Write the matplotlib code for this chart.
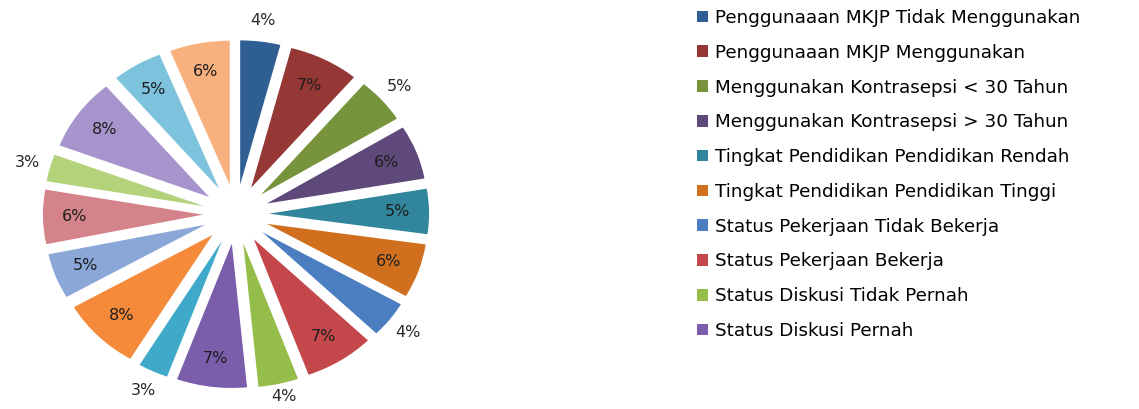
import numpy as np
import matplotlib
matplotlib.use('Agg')
import matplotlib.pyplot as plt

# slice values (percent), clockwise from 12 o'clock
values = [4, 7, 5, 6, 5, 6, 4, 7, 4, 7, 3, 8, 5, 6, 3, 8, 5, 6]

# only the first ten categories are visible in the legend
legend_labels = [
    'Penggunaaan MKJP Tidak Menggunakan',
    'Penggunaaan MKJP Menggunakan',
    'Menggunakan Kontrasepsi < 30 Tahun',
    'Menggunakan Kontrasepsi > 30 Tahun',
    'Tingkat Pendidikan Pendidikan Rendah',
    'Tingkat Pendidikan Pendidikan Tinggi',
    'Status Pekerjaan Tidak Bekerja',
    'Status Pekerjaan Bekerja',
    'Status Diskusi Tidak Pernah',
    'Status Diskusi Pernah',
]

colors = ['#2F5E93', '#953735', '#77933C', '#5F497A', '#31859C', '#D0701E',
          '#4A7EC0', '#C4474C', '#94BD4A', '#7B5DAB', '#3FA9CA', '#F48A3A',
          '#8AA7D8', '#D5838A', '#B3D37A', '#A794CC', '#7EC3DE', '#F8B07E']

# slices whose percentage sits outside the pie
outside = [0, 2, 6, 8, 10, 14]

fig = plt.figure(figsize=(11.39, 4.09), dpi=100)
ax = fig.add_axes([0, 0, 472 / 1139, 1])

wedges, texts, autotexts = ax.pie(
    values, colors=colors, startangle=90, counterclock=False,
    explode=[0.2] * len(values), radius=0.97,
    autopct='%.0f%%', pctdistance=0.8,
    wedgeprops=dict(linewidth=0),
    textprops=dict(fontsize=11.5, color='#1e1e1e'))

# move labels of the thin slices outside
for i, (w, t) in enumerate(zip(wedges, autotexts)):
    if i in outside:
        ang = np.deg2rad((w.theta1 + w.theta2) / 2)
        cx, cy = w.center
        t.set_position((cx + 1.11 * np.cos(ang), cy + 1.11 * np.sin(ang)))
        t.set_color('#2a2a2a')
        if i == 8:
            t.set_va('bottom')

ax.set_aspect('auto')
ax.set_xlim(-1.43, 1.43)
ax.set_ylim(-1.31, 1.44)
ax.axis('off')

fig.legend(wedges[:10], legend_labels, loc='upper left',
           bbox_to_anchor=(697 / 1139, 1 - 9 / 409),
           frameon=False, fontsize=13.2, handlelength=0.6, handleheight=0.6,
           handletextpad=0.4, labelspacing=0.915, borderpad=0, borderaxespad=0)

plt.savefig('out.png', dpi=100, facecolor='white')
